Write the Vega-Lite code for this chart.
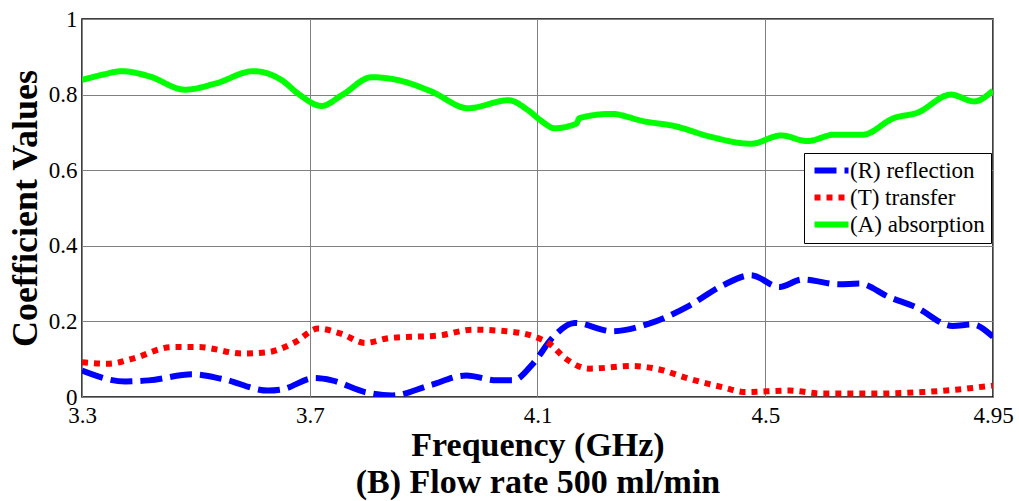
{
  "$schema": "https://vega.github.io/schema/vega-lite/v6.json",
  "width": 911,
  "height": 378,
  "autosize": {"type": "none"},
  "padding": {"left": 82, "top": 19, "right": 26, "bottom": 104},
  "background": "white",
  "config": {"view": {"stroke": "black", "strokeWidth": 1.5}, "font": "Liberation Serif"},
  "data": {"values": [
    {"f": 3.300, "v": 0.839, "s": "(A) absorption"},
    {"f": 3.337, "v": 0.853, "s": "(A) absorption"},
    {"f": 3.370, "v": 0.862, "s": "(A) absorption"},
    {"f": 3.417, "v": 0.849, "s": "(A) absorption"},
    {"f": 3.481, "v": 0.813, "s": "(A) absorption"},
    {"f": 3.534, "v": 0.829, "s": "(A) absorption"},
    {"f": 3.601, "v": 0.862, "s": "(A) absorption"},
    {"f": 3.651, "v": 0.838, "s": "(A) absorption"},
    {"f": 3.680, "v": 0.802, "s": "(A) absorption"},
    {"f": 3.721, "v": 0.770, "s": "(A) absorption"},
    {"f": 3.756, "v": 0.798, "s": "(A) absorption"},
    {"f": 3.809, "v": 0.846, "s": "(A) absorption"},
    {"f": 3.856, "v": 0.838, "s": "(A) absorption"},
    {"f": 3.914, "v": 0.808, "s": "(A) absorption"},
    {"f": 3.978, "v": 0.764, "s": "(A) absorption"},
    {"f": 4.049, "v": 0.785, "s": "(A) absorption"},
    {"f": 4.084, "v": 0.758, "s": "(A) absorption"},
    {"f": 4.107, "v": 0.730, "s": "(A) absorption"},
    {"f": 4.130, "v": 0.711, "s": "(A) absorption"},
    {"f": 4.168, "v": 0.723, "s": "(A) absorption"},
    {"f": 4.174, "v": 0.738, "s": "(A) absorption"},
    {"f": 4.229, "v": 0.749, "s": "(A) absorption"},
    {"f": 4.288, "v": 0.729, "s": "(A) absorption"},
    {"f": 4.340, "v": 0.717, "s": "(A) absorption"},
    {"f": 4.405, "v": 0.688, "s": "(A) absorption"},
    {"f": 4.475, "v": 0.670, "s": "(A) absorption"},
    {"f": 4.528, "v": 0.692, "s": "(A) absorption"},
    {"f": 4.574, "v": 0.677, "s": "(A) absorption"},
    {"f": 4.621, "v": 0.694, "s": "(A) absorption"},
    {"f": 4.671, "v": 0.694, "s": "(A) absorption"},
    {"f": 4.726, "v": 0.738, "s": "(A) absorption"},
    {"f": 4.767, "v": 0.752, "s": "(A) absorption"},
    {"f": 4.826, "v": 0.800, "s": "(A) absorption"},
    {"f": 4.867, "v": 0.782, "s": "(A) absorption"},
    {"f": 4.900, "v": 0.811, "s": "(A) absorption"},
    {"f": 3.300, "v": 0.070, "s": "(R) reflection"},
    {"f": 3.376, "v": 0.041, "s": "(R) reflection"},
    {"f": 3.417, "v": 0.044, "s": "(R) reflection"},
    {"f": 3.493, "v": 0.060, "s": "(R) reflection"},
    {"f": 3.546, "v": 0.048, "s": "(R) reflection"},
    {"f": 3.627, "v": 0.017, "s": "(R) reflection"},
    {"f": 3.651, "v": 0.020, "s": "(R) reflection"},
    {"f": 3.709, "v": 0.050, "s": "(R) reflection"},
    {"f": 3.739, "v": 0.044, "s": "(R) reflection"},
    {"f": 3.797, "v": 0.013, "s": "(R) reflection"},
    {"f": 3.845, "v": 0.004, "s": "(R) reflection"},
    {"f": 3.911, "v": 0.031, "s": "(R) reflection"},
    {"f": 3.975, "v": 0.057, "s": "(R) reflection"},
    {"f": 4.028, "v": 0.044, "s": "(R) reflection"},
    {"f": 4.057, "v": 0.044, "s": "(R) reflection"},
    {"f": 4.092, "v": 0.088, "s": "(R) reflection"},
    {"f": 4.127, "v": 0.158, "s": "(R) reflection"},
    {"f": 4.165, "v": 0.196, "s": "(R) reflection"},
    {"f": 4.232, "v": 0.174, "s": "(R) reflection"},
    {"f": 4.296, "v": 0.194, "s": "(R) reflection"},
    {"f": 4.367, "v": 0.242, "s": "(R) reflection"},
    {"f": 4.425, "v": 0.295, "s": "(R) reflection"},
    {"f": 4.475, "v": 0.322, "s": "(R) reflection"},
    {"f": 4.525, "v": 0.291, "s": "(R) reflection"},
    {"f": 4.565, "v": 0.311, "s": "(R) reflection"},
    {"f": 4.630, "v": 0.298, "s": "(R) reflection"},
    {"f": 4.665, "v": 0.300, "s": "(R) reflection"},
    {"f": 4.718, "v": 0.264, "s": "(R) reflection"},
    {"f": 4.764, "v": 0.238, "s": "(R) reflection"},
    {"f": 4.829, "v": 0.188, "s": "(R) reflection"},
    {"f": 4.864, "v": 0.192, "s": "(R) reflection"},
    {"f": 4.900, "v": 0.159, "s": "(R) reflection"},
    {"f": 3.300, "v": 0.092, "s": "(T) transfer"},
    {"f": 3.347, "v": 0.088, "s": "(T) transfer"},
    {"f": 3.388, "v": 0.101, "s": "(T) transfer"},
    {"f": 3.458, "v": 0.132, "s": "(T) transfer"},
    {"f": 3.505, "v": 0.132, "s": "(T) transfer"},
    {"f": 3.581, "v": 0.115, "s": "(T) transfer"},
    {"f": 3.628, "v": 0.119, "s": "(T) transfer"},
    {"f": 3.674, "v": 0.145, "s": "(T) transfer"},
    {"f": 3.715, "v": 0.181, "s": "(T) transfer"},
    {"f": 3.756, "v": 0.167, "s": "(T) transfer"},
    {"f": 3.797, "v": 0.143, "s": "(T) transfer"},
    {"f": 3.840, "v": 0.156, "s": "(T) transfer"},
    {"f": 3.928, "v": 0.163, "s": "(T) transfer"},
    {"f": 3.986, "v": 0.178, "s": "(T) transfer"},
    {"f": 4.045, "v": 0.174, "s": "(T) transfer"},
    {"f": 4.092, "v": 0.161, "s": "(T) transfer"},
    {"f": 4.121, "v": 0.141, "s": "(T) transfer"},
    {"f": 4.150, "v": 0.101, "s": "(T) transfer"},
    {"f": 4.191, "v": 0.075, "s": "(T) transfer"},
    {"f": 4.267, "v": 0.082, "s": "(T) transfer"},
    {"f": 4.308, "v": 0.075, "s": "(T) transfer"},
    {"f": 4.367, "v": 0.048, "s": "(T) transfer"},
    {"f": 4.425, "v": 0.026, "s": "(T) transfer"},
    {"f": 4.466, "v": 0.013, "s": "(T) transfer"},
    {"f": 4.542, "v": 0.017, "s": "(T) transfer"},
    {"f": 4.601, "v": 0.009, "s": "(T) transfer"},
    {"f": 4.688, "v": 0.009, "s": "(T) transfer"},
    {"f": 4.776, "v": 0.013, "s": "(T) transfer"},
    {"f": 4.834, "v": 0.019, "s": "(T) transfer"},
    {"f": 4.887, "v": 0.028, "s": "(T) transfer"},
    {"f": 4.900, "v": 0.030, "s": "(T) transfer"}
  ]},
  "mark": {"type": "line", "interpolate": "monotone", "strokeWidth": 6, "strokeCap": "butt", "clip": true},
  "encoding": {
    "x": {
      "field": "f", "type": "quantitative",
      "scale": {"domain": [3.3, 4.9], "nice": false, "zero": false},
      "axis": {
        "values": [3.3, 3.7, 4.1, 4.5, 4.9],
        "labelExpr": "datum.value >= 4.89 ? '4.95' : format(datum.value, '.1f')",
        "labelFlush": false, "labelOverlap": false, "labelBound": false,
        "labelFont": "Liberation Serif", "labelFontSize": 23, "labelColor": "black", "labelPadding": 7,
        "ticks": false, "domain": false,
        "grid": true, "gridColor": "#808080", "gridOpacity": 1, "gridWidth": 1,
        "title": ["Frequency (GHz)", "(B) Flow rate 500 ml/min"],
        "titleFont": "Liberation Serif", "titleFontSize": 34, "titleFontWeight": "bold",
        "titleLineHeight": 37, "titleColor": "black", "titlePadding": 1
      }
    },
    "y": {
      "field": "v", "type": "quantitative",
      "scale": {"domain": [0, 1], "nice": false},
      "axis": {
        "values": [0, 0.2, 0.4, 0.6, 0.8, 1],
        "format": "~g",
        "labelFlush": false, "labelOverlap": false, "labelBound": false,
        "labelFont": "Liberation Serif", "labelFontSize": 23, "labelColor": "black", "labelPadding": 5,
        "ticks": false, "domain": false,
        "grid": true, "gridColor": "#808080", "gridOpacity": 1, "gridWidth": 1,
        "title": "Coefficient Values",
        "titleFont": "Liberation Serif", "titleFontSize": 36, "titleFontWeight": "bold",
        "titleColor": "black", "titlePadding": 4
      }
    },
    "color": {
      "field": "s", "type": "nominal",
      "scale": {"domain": ["(R) reflection", "(T) transfer", "(A) absorption"], "range": ["#0000ff", "#ff0000", "#00ff00"]},
      "legend": {
        "orient": "none", "legendX": 722, "legendY": 134, "title": null,
        "symbolType": "M-2,0H2", "symbolSize": 289, "symbolStrokeWidth": 6, "symbolOffset": 10,
        "labelFont": "Liberation Serif", "labelFontSize": 23, "labelColor": "black", "labelOffset": 7,
        "strokeColor": "black", "fillColor": "white", "padding": 6, "rowPadding": 2
      }
    },
    "strokeDash": {
      "field": "s", "type": "nominal",
      "scale": {"domain": ["(R) reflection", "(T) transfer", "(A) absorption"], "range": [[22, 8], [6, 6], [1, 0]]},
      "legend": {
        "orient": "none", "legendX": 722, "legendY": 134, "title": null,
        "symbolType": "M-2,0H2", "symbolSize": 289, "symbolStrokeWidth": 6, "symbolOffset": 10,
        "labelFont": "Liberation Serif", "labelFontSize": 23, "labelColor": "black", "labelOffset": 7,
        "strokeColor": "black", "fillColor": "white", "padding": 6, "rowPadding": 2
      }
    }
  }
}
